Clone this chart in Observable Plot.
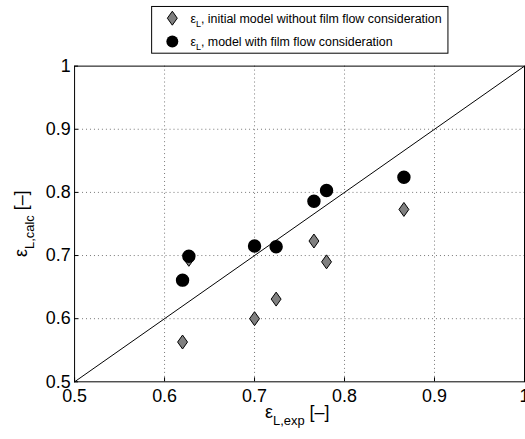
<!DOCTYPE html>
<html>
<head>
<meta charset="utf-8">
<script src="https://cdn.jsdelivr.net/npm/d3@7"></script>
<script src="https://cdn.jsdelivr.net/npm/@observablehq/plot@0.6"></script>
<style>
  html, body { margin: 0; padding: 0; background: #fff; overflow: hidden; }
  #wrap { width: 525px; height: 439px; overflow: hidden; position: relative; }
</style>
</head>
<body>
<div id="wrap"></div>
<script>
// ---- data ----
const xExp      = [0.620, 0.627, 0.700, 0.724, 0.766, 0.780, 0.866];
const yInitial  = [0.563, 0.694, 0.600, 0.631, 0.723, 0.690, 0.773];
const yFilm     = [0.661, 0.699, 0.715, 0.714, 0.786, 0.803, 0.824];
const diagLine  = [0.5, 1.0];
const xTicks    = [0.5, 0.6, 0.7, 0.8, 0.9, 1.0];
const yTicks    = [0.5, 0.6, 0.7, 0.8, 0.9, 1.0];
const gridVals  = [0.6, 0.7, 0.8, 0.9];
const seriesNames = [", initial model without film flow consideration", ", model with film flow consideration"];

const initialData = xExp.map((x, i) => ({x, y: yInitial[i]}));
const filmData    = xExp.map((x, i) => ({x, y: yFilm[i]}));
const diagData    = diagLine.map(v => ({x: v, y: v}));

const diamond = {
  draw(ctx, size) {
    const r = Math.sqrt(size / Math.PI);
    const hw = r * 0.83, hh = r * 1.17;
    ctx.moveTo(0, -hh); ctx.lineTo(hw, 0); ctx.lineTo(0, hh); ctx.lineTo(-hw, 0); ctx.closePath();
  }
};

const W = 528, H = 439, mL = 74.5, mR = 1, mT = 66, mB = 55.5;
const fmt = d => String(+d.toFixed(1));

const chart = Plot.plot({
  width: W, height: H,
  marginLeft: mL, marginRight: mR, marginTop: mT, marginBottom: mB,
  x: {domain: [0.5, 1]},
  y: {domain: [0.5, 1]},
  style: {fontFamily: "'Liberation Sans', Arial, sans-serif", fontSize: "18px", background: "white", color: "black"},
  marks: [
    Plot.gridX(gridVals, {stroke: "#777", strokeOpacity: 1, strokeDasharray: "1,3"}),
    Plot.gridY(gridVals, {stroke: "#777", strokeOpacity: 1, strokeDasharray: "1,3"}),
    Plot.ruleX(xTicks, {stroke: "black", insetTop: (H - mT - mB) - 4}),
    Plot.ruleY(yTicks, {stroke: "black", insetRight: (W - mL - mR) - 4}),
    Plot.line(diagData, {x: "x", y: "y", stroke: "black", strokeWidth: 1}),
    Plot.dot(initialData, {x: "x", y: "y", symbol: diamond, r: 6, fill: "#808080", stroke: "black", strokeWidth: 1}),
    Plot.dot(filmData, {x: "x", y: "y", r: 6, fill: "black", stroke: "black"}),
    Plot.frame({stroke: "black", strokeWidth: 1}),
    Plot.axisX(xTicks, {tickSize: 0, tickPadding: 8, fontSize: 18, label: null, tickFormat: fmt}),
    Plot.axisY(yTicks, {tickSize: 0, tickPadding: 4, fontSize: 18, label: null, tickFormat: fmt})
  ]
});

document.getElementById("wrap").appendChild(chart);

const svg = d3.select(chart);
const ff = "'Liberation Sans', Arial, sans-serif";

// x axis label
const xl = svg.append("text")
  .attr("x", 299).attr("y", 420)
  .attr("text-anchor", "middle")
  .attr("font-family", ff).attr("font-size", 18).attr("fill", "black");
xl.append("tspan").text("ε");
xl.append("tspan").attr("font-size", 13).attr("dy", 7).text("L,exp");
xl.append("tspan").attr("dy", -7).text(" [–]");

// y axis label
const yl = svg.append("text")
  .attr("transform", "translate(27,225) rotate(-90)")
  .attr("text-anchor", "middle")
  .attr("font-family", ff).attr("font-size", 18).attr("fill", "black");
yl.append("tspan").text("ε");
yl.append("tspan").attr("font-size", 13).attr("dy", 7).text("L,calc");
yl.append("tspan").attr("dy", -7).text(" [–]");

// legend
const lg = svg.append("g");
lg.append("rect").attr("x", 152.5).attr("y", 6.5).attr("width", 298).attr("height", 47)
  .attr("fill", "white").attr("stroke", "black").attr("stroke-width", 1);
const rowsY = [18.3, 41.7];
lg.append("path")
  .attr("d", d3.symbol(diamond, 36 * Math.PI)())
  .attr("transform", `translate(173.3,${rowsY[0]})`)
  .attr("fill", "#808080").attr("stroke", "black");
lg.append("circle").attr("cx", 173.3).attr("cy", rowsY[1]).attr("r", 6).attr("fill", "black");
seriesNames.forEach((name, i) => {
  const t = lg.append("text").attr("x", 191.5).attr("y", rowsY[i] + 4.5)
    .attr("text-anchor", "start")
    .attr("font-family", ff).attr("font-size", 12.5).attr("fill", "black");
  t.append("tspan").text("ε");
  t.append("tspan").attr("font-size", 9).attr("dy", 4).text("L");
  t.append("tspan").attr("dy", -4).text(name);
});
</script>
</body>
</html>
